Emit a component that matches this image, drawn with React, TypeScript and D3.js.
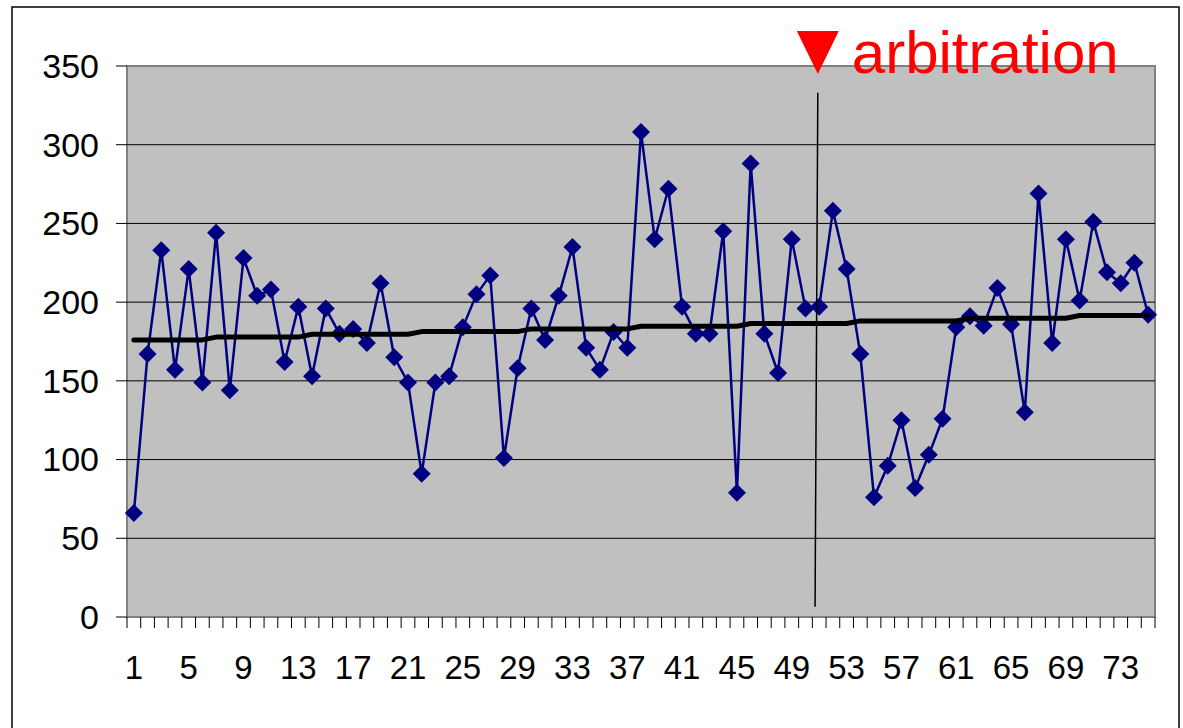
import * as d3 from "d3"

// values
const categories = d3.range(1, 76)
const values = [
	66, 167, 233, 157, 221, 149, 244, 144, 228, 204, 208, 162, 197, 153, 196,
	180, 183, 174, 212, 165, 149, 91, 149, 153, 184, 205, 217, 101, 158, 196,
	176, 204, 235, 171, 157, 181, 171, 308, 240, 272, 197, 180, 180, 245, 79,
	288, 180, 155, 240, 196, 197, 258, 221, 167, 76, 96, 125, 82, 103, 126,
	184, 191, 185, 209, 186, 130, 269, 174, 240, 201, 251, 219, 212, 225, 192,
]
const trend = [
	176, 176, 176, 176, 176, 176,
	177.8, 177.8, 177.8, 177.8, 177.8, 177.8, 177.8,
	179.6, 179.6, 179.6, 179.6, 179.6, 179.6, 179.6, 179.6,
	181.3, 181.3, 181.3, 181.3, 181.3, 181.3, 181.3, 181.3,
	183, 183, 183, 183, 183, 183, 183, 183,
	184.7, 184.7, 184.7, 184.7, 184.7, 184.7, 184.7, 184.7,
	186.4, 186.4, 186.4, 186.4, 186.4, 186.4, 186.4, 186.4,
	188.1, 188.1, 188.1, 188.1, 188.1, 188.1, 188.1, 188.1,
	189.8, 189.8, 189.8, 189.8, 189.8, 189.8, 189.8, 189.8,
	191.5, 191.5, 191.5, 191.5, 191.5, 191.5,
]
const yTicks = [0, 50, 100, 150, 200, 250, 300, 350]
const xLabels = [1, 5, 9, 13, 17, 21, 25, 29, 33, 37, 41, 45, 49, 53, 57, 61, 65, 69, 73]
// arbitration marker: category position, top and bottom in value units
const arbitrationAt = [50.9, 50.7]
const arbitrationSpan = [333, 6.5]
const arbitrationLabel = "arbitration"

const W = 1183
const H = 728
const margin = { top: 66, right: 28, bottom: 111, left: 127 }
const font = "'Liberation Sans', Arial, sans-serif"

export default function App() {
	const x = d3
		.scaleLinear()
		.domain([0.5, categories.length + 0.5])
		.range([margin.left, W - margin.right])
	const y = d3
		.scaleLinear()
		.domain([0, 350])
		.range([H - margin.bottom, margin.top])

	const line = d3
		.line<number>()
		.x((d, i) => x(categories[i]))
		.y((d) => y(d))

	const plotW = x.range()[1] - x.range()[0]
	const plotH = y.range()[0] - y.range()[1]
	const boundaries = d3.range(0, categories.length + 1).map((i) => i + 0.5)

	const ax0 = x(arbitrationAt[0])
	const ax1 = x(arbitrationAt[1])
	const ay0 = y(arbitrationSpan[0])
	const ay1 = y(arbitrationSpan[1])

	const diamond = (cx, cy, r) =>
		`M${cx},${cy - r}L${cx + r},${cy}L${cx},${cy + r}L${cx - r},${cy}Z`

	return (
		<div style={{ position: "absolute", left: 0, top: 0 }}>
			<svg width={W} height={H} style={{ display: "block" }} fontFamily={font}>
				<rect width={W} height={H} fill="#fff" />
				<rect x={12} y={7} width={1167} height={H + 10} fill="none" stroke="#000" strokeWidth={1.5} />

				{/* plot area */}
				<rect
					x={x.range()[0]}
					y={y.range()[1]}
					width={plotW}
					height={plotH}
					fill="#c0c0c0"
					stroke="#808080"
					strokeWidth={2}
				/>
				{yTicks.slice(1, -1).map((t) => (
					<line key={t} x1={x.range()[0]} x2={x.range()[1]} y1={y(t)} y2={y(t)} stroke="#000" strokeWidth={1} />
				))}

				{/* y axis */}
				{yTicks.map((t) => (
					<g key={t}>
						<line x1={x.range()[0] - 11} x2={x.range()[0]} y1={y(t)} y2={y(t)} stroke="#000" strokeWidth={1} />
						<text x={x.range()[0] - 28} y={y(t)} dy="0.35em" textAnchor="end" fontSize={34} fill="#000">
							{t}
						</text>
					</g>
				))}

				{/* x axis */}
				<line x1={x.range()[0]} x2={x.range()[1]} y1={y(0)} y2={y(0)} stroke="#808080" strokeWidth={2} />
				{boundaries.map((b) => (
					<line key={b} x1={x(b)} x2={x(b)} y1={y(0)} y2={y(0) + 11} stroke="#000" strokeWidth={1} />
				))}
				{xLabels.map((l) => (
					<text key={l} x={x(l)} y={679} textAnchor="middle" fontSize={33} fill="#000">
						{l}
					</text>
				))}

				{/* data series */}
				<path d={line(values)} fill="none" stroke="#000080" strokeWidth={2.5} />
				{values.map((v, i) => (
					<path key={i} d={diamond(x(categories[i]), y(v), 9)} fill="#000080" />
				))}

				{/* trend */}
				<path d={line(trend)} fill="none" stroke="#000" strokeWidth={5} strokeLinecap="round" strokeLinejoin="round" />

				{/* arbitration marker */}
				<line x1={ax0} y1={ay0} x2={ax1} y2={ay1} stroke="#000" strokeWidth={1.5} />
				<path d={`M${ax0 - 21},31L${ax0 + 21},31L${ax0},74Z`} fill="#ff0000" />
				<text x={ax0 + 34} y={73} fontSize={60} fill="#ff0000">
					{arbitrationLabel}
				</text>
			</svg>
		</div>
	)
}
